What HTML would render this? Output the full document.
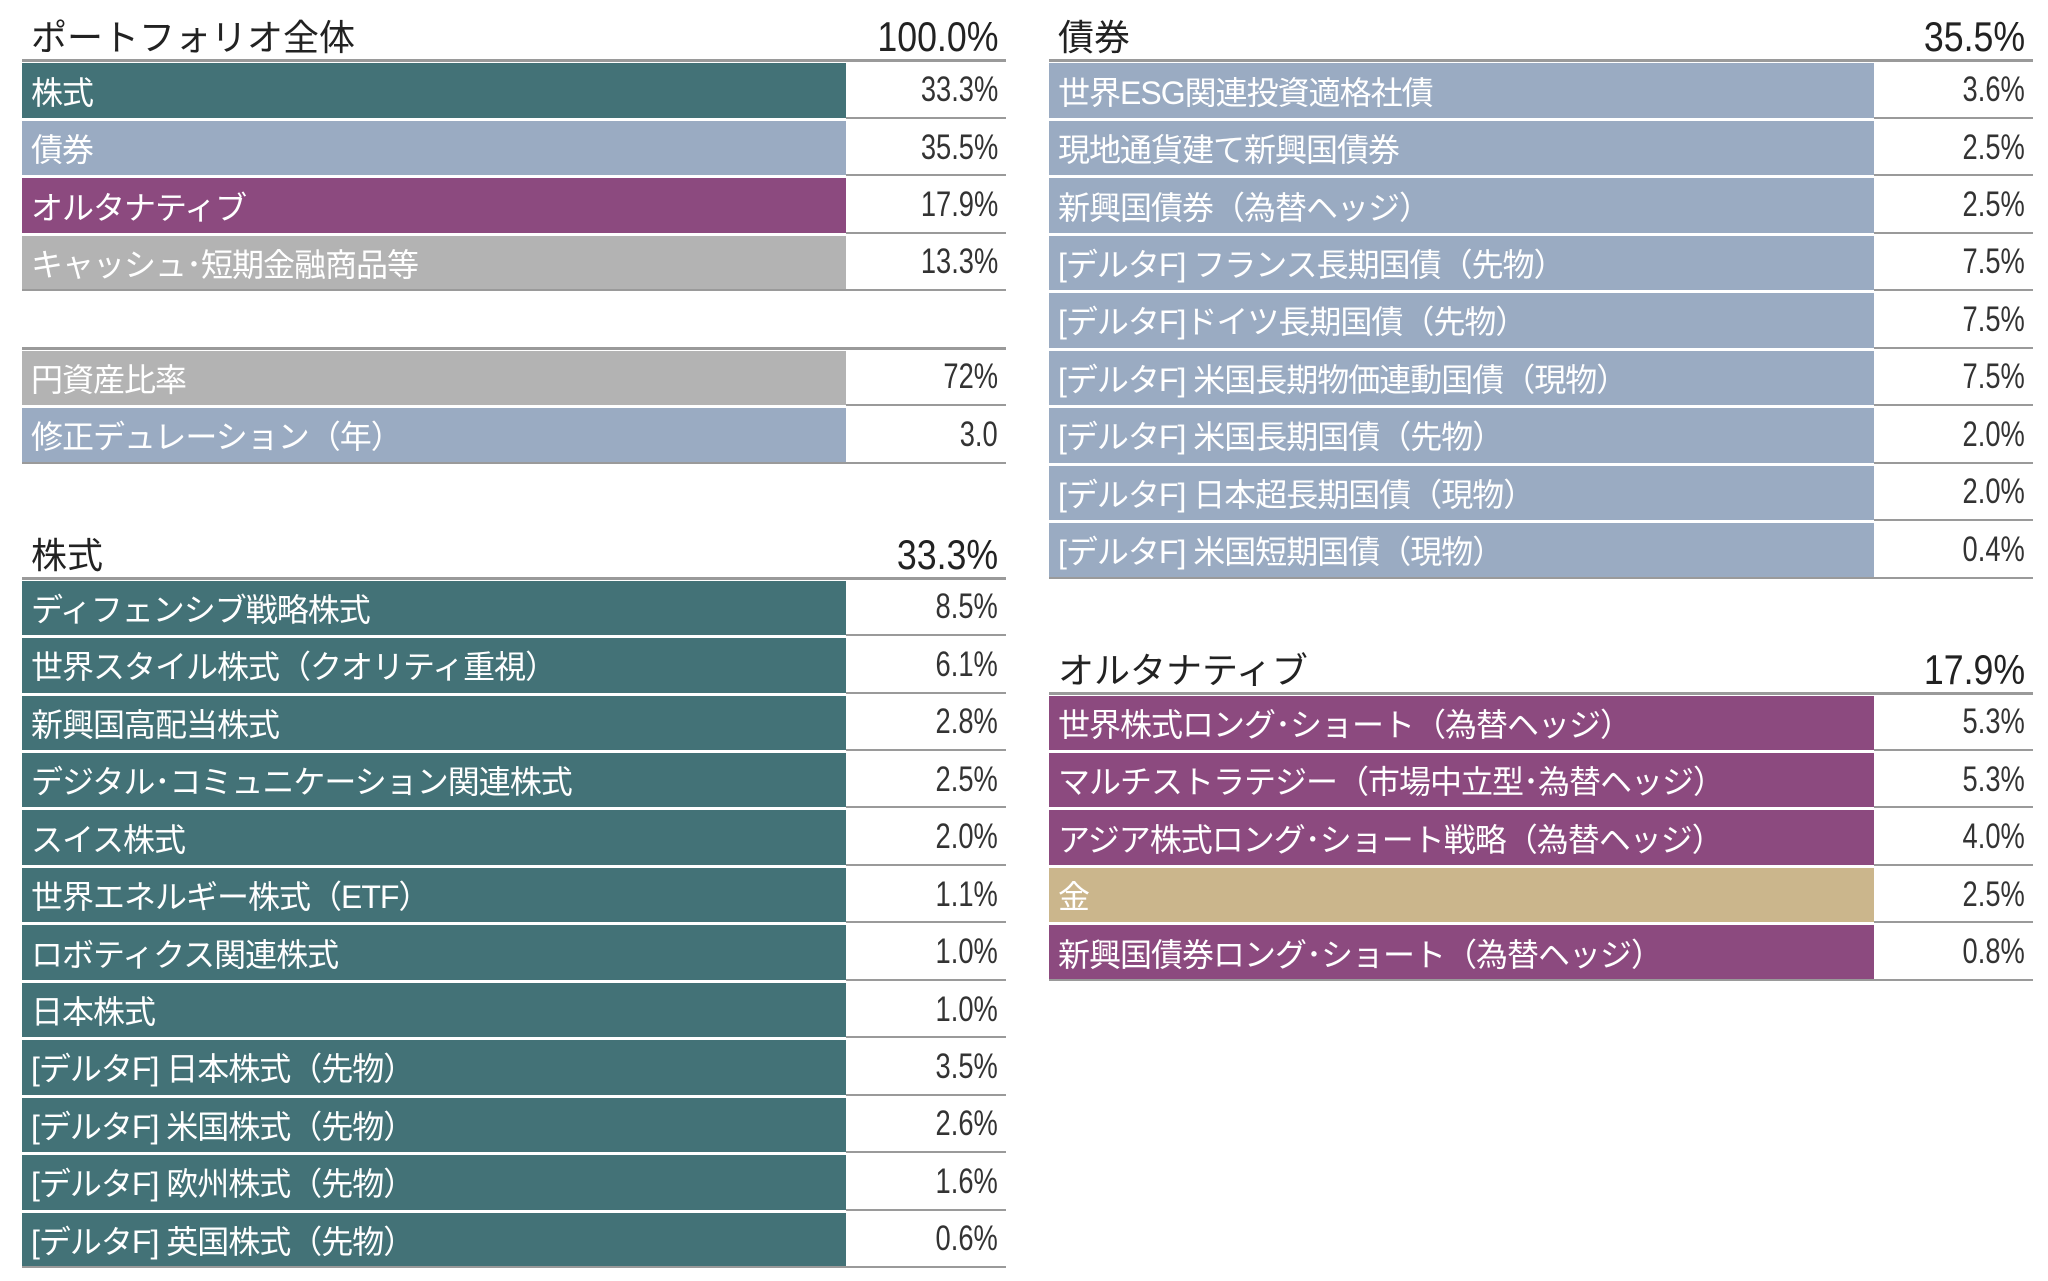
<!DOCTYPE html>
<html><head><meta charset="utf-8">
<style>
body{margin:0;width:2048px;height:1281px;background:#fff;position:relative;overflow:hidden;
font-family:"Liberation Sans","Noto Sans CJK JP",sans-serif;}
.a{position:absolute;box-sizing:border-box;white-space:nowrap;}
.lbl{color:#fff;font-size:32px;padding-left:9px;display:flex;align-items:center;letter-spacing:-1px}
.val{color:#333;font-size:35px;text-align:right;padding-right:8px;display:flex;align-items:center;justify-content:flex-end}
.val span{display:inline-block;transform:scaleX(0.78);transform-origin:right center}
.hd{color:#222;font-size:36px;display:flex;align-items:flex-end}
.hv{color:#222;font-size:42px;display:flex;align-items:flex-end;justify-content:flex-end}
.hv span{display:inline-block;transform:scaleX(0.85);transform-origin:right center}
</style></head><body>
<script>
const C={s:'#437277',b:'#9aabc2',a:'#8c4a7f',c:'#b3b3b3',g:'#cbb68c'};
const totalLabels=['株式','債券','オルタナティブ','キャッシュ･短期金融商品等'];
const totalValues=['33.3%','35.5%','17.9%','13.3%'];
const totalColors=['s','b','a','c'];
const metricLabels=['円資産比率','修正デュレーション（年）'];
const metricValues=['72%','3.0'];
const metricColors=['c','b'];
const stockLabels=['ディフェンシブ戦略株式','世界スタイル株式（クオリティ重視）','新興国高配当株式','デジタル･コミュニケーション関連株式','スイス株式','世界エネルギー株式（ETF）','ロボティクス関連株式','日本株式','[デルタF] 日本株式（先物）','[デルタF] 米国株式（先物）','[デルタF] 欧州株式（先物）','[デルタF] 英国株式（先物）'];
const stockValues=['8.5%','6.1%','2.8%','2.5%','2.0%','1.1%','1.0%','1.0%','3.5%','2.6%','1.6%','0.6%'];
const bondLabels=['世界ESG関連投資適格社債','現地通貨建て新興国債券','新興国債券（為替ヘッジ）','[デルタF] フランス長期国債（先物）','[デルタF]ドイツ長期国債（先物）','[デルタF] 米国長期物価連動国債（現物）','[デルタF] 米国長期国債（先物）','[デルタF] 日本超長期国債（現物）','[デルタF] 米国短期国債（現物）'];
const bondValues=['3.6%','2.5%','2.5%','7.5%','7.5%','7.5%','2.0%','2.0%','0.4%'];
const altLabels=['世界株式ロング･ショート（為替ヘッジ）','マルチストラテジー（市場中立型･為替ヘッジ）','アジア株式ロング･ショート戦略（為替ヘッジ）','金','新興国債券ロング･ショート（為替ヘッジ）'];
const altValues=['5.3%','5.3%','4.0%','2.5%','0.8%'];
const altColors=['a','a','a','g','a'];
const RH=57.46;
function mk(cls,x,y,w,h,html,bg,name){
  const d=document.createElement('div');
  d.className='a '+cls;
  d.style.left=x+'px';d.style.top=y+'px';d.style.width=w+'px';d.style.height=h+'px';
  if(bg)d.style.background=bg;
  if(html!==null)d.innerHTML=html;
  
  
  document.body.appendChild(d);return d;
}
function table(name,x0,xv,x1,topLine,title,titleVal,labels,values,colors){
  if(title!==null){
    mk('hd',x0+9,topLine-52,600,52,title,null,name+'-title');
    mk('hv',xv,topLine-54,x1-xv-8,54,'<span>'+titleVal+'</span>',null,name+'-total');
  }
  mk('',x0,topLine-2,x1-x0,3,null,'#9a9a9a',name+'-top-rule');
  labels.forEach((l,i)=>{
    const y=topLine+1+i*RH;
    const last=i===labels.length-1;
    mk('lbl',x0,y+1,xv-x0,RH-3,l,C[colors[i]],name+'-row-label');
    mk('val',xv,y,x1-xv,RH-2,'<span>'+values[i]+'</span>',null,name+'-row-value');
    mk('',last?x0:xv,y+RH-3,last?x1-x0:x1-xv,2,null,'#9a9a9a',name+'-row-rule');
  });
}
table('portfolio-total',22,846,1006,61.4,'ポートフォリオ全体','100.0%',totalLabels,totalValues,totalColors);
table('portfolio-metrics',22,846,1006,348.7,null,'',metricLabels,metricValues,metricColors);
table('stocks',22,846,1006,578.6,'株式','33.3%',stockLabels,stockValues,stockLabels.map(()=> 's'));
table('bonds',1049,1874,2033,61.4,'債券','35.5%',bondLabels,bondValues,bondLabels.map(()=> 'b'));
table('alternatives',1049,1874,2033,693.5,'オルタナティブ','17.9%',altLabels,altValues,altColors);
</script>
</body></html>
